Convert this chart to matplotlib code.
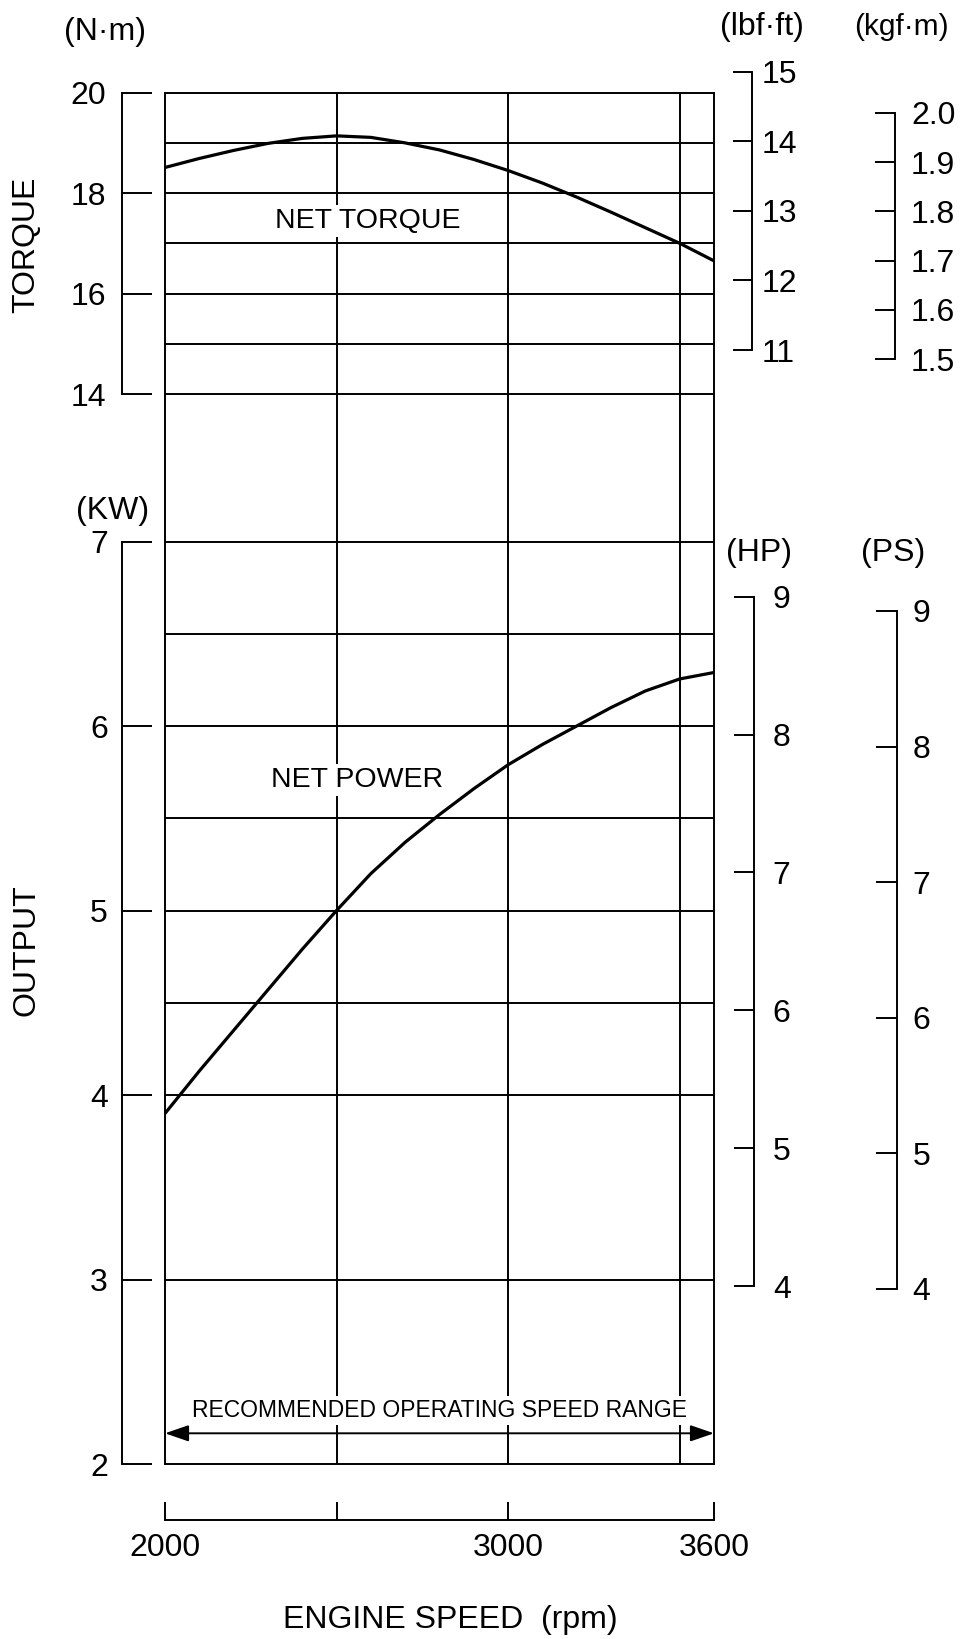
import matplotlib
matplotlib.use("Agg")
import matplotlib.pyplot as plt
from matplotlib import font_manager

# engine speed (rpm) and curves
rpm = [2000, 2100, 2200, 2300, 2400, 2500, 2600, 2700, 2800, 2900,
       3000, 3100, 3200, 3300, 3400, 3500, 3600]
netTorque = [18.51, 18.69, 18.85, 18.99, 19.09, 19.14, 19.11, 19.00, 18.86, 18.67,
             18.45, 18.20, 17.92, 17.62, 17.31, 17.00, 16.65]   # N·m
netPower = [3.90, 4.13, 4.35, 4.57, 4.79, 5.00, 5.20, 5.37, 5.52, 5.66,
            5.79, 5.90, 6.00, 6.10, 6.19, 6.255, 6.29]           # kW

xTicks = [2000, 2500, 3000, 3600]
xTickLabels = ["2000", "", "3000", "3600"]
vLines = [2500, 3000, 3500]
torqueGrid = [14, 15, 16, 17, 18, 19]
powerGrid = [3, 4, 4.5, 5, 5.5, 6, 6.5, 7]

nmTicks = [14, 16, 18, 20]
lbfftTicks = [11, 12, 13, 14, 15]
kgfmTicks = [1.5, 1.6, 1.7, 1.8, 1.9, 2.0]
kwTicks = [2, 3, 4, 5, 6, 7]
hpTicks = [4, 5, 6, 7, 8, 9]
psTicks = [4, 5, 6, 7, 8, 9]

W, H = 965, 1639
LW = 1.4
plt.rcParams["font.family"] = ["Liberation Sans", "DejaVu Sans"]
plt.rcParams["font.size"] = 23

names = {f.name for f in font_manager.fontManager.ttflist}
if "Liberation Sans Narrow" in names:
    recFamily, recSize = ["Liberation Sans Narrow", "Liberation Sans"], 20.5
else:
    recFamily, recSize = ["Liberation Sans", "DejaVu Sans"], 16.5


def box(x0, y0, x1, y1):
    # pixel rect (top-left origin) -> figure fraction rect
    return [x0 / W, 1 - y1 / H, (x1 - x0) / W, (y1 - y0) / H]


def bracket(fig, rect, lo, hi, ticks, side, tickLen, pad, fmt="{:g}"):
    b = fig.add_axes(rect)
    b.patch.set_visible(False)
    for s in b.spines.values():
        s.set_visible(False)
    b.spines[side].set_visible(True)
    b.spines[side].set_linewidth(LW)
    if side in ("left", "right"):
        b.set_ylim(lo, hi)
        b.set_xticks([])
        b.set_yticks(ticks, labels=[fmt.format(t) for t in ticks])
        b.yaxis.set_ticks_position(side)
        b.tick_params(axis="y", direction="in", length=tickLen, width=LW, pad=pad, labelsize=23)
    else:
        b.set_xlim(lo, hi)
        b.set_yticks([])
        b.set_xticks(ticks, labels=fmt)
        b.tick_params(axis="x", direction="in", length=tickLen, width=LW, pad=pad, labelsize=23)
    return b


fig = plt.figure(figsize=(W / 100, H / 100), dpi=100)

boxTop, boxBottom = 92.7, 1464
ax = fig.add_axes(box(165, boxTop, 714, boxBottom))
ax.set_xlim(2000, 3600)
ax.set_ylim(2, 2 + (boxBottom - boxTop) / 184.5)   # kW, 184.5 px per kW
ax.set_xticks([])
ax.set_yticks([])
for s in ax.spines.values():
    s.set_linewidth(LW)

axT = ax.twinx()
axT.set_ylim(20 - (boxBottom - boxTop) / 50.2, 20)  # N·m, 50.2 px per N·m
axT.set_yticks([])
for s in axT.spines.values():
    s.set_visible(False)

for v in vLines:
    ax.axvline(v, color="black", lw=LW)
for h in powerGrid:
    ax.axhline(h, color="black", lw=LW)
for h in torqueGrid:
    axT.axhline(h, color="black", lw=LW)

ax.plot(rpm, netPower, color="black", lw=2.3)
axT.plot(rpm, netTorque, color="black", lw=2.3)

# double arrow for operating range
ax.annotate("", xy=(3600, (boxBottom - 1433.3) / (boxBottom - boxTop)),
            xytext=(2000, (boxBottom - 1433.3) / (boxBottom - boxTop)),
            xycoords=("data", "axes fraction"), textcoords=("data", "axes fraction"),
            arrowprops=dict(arrowstyle="<|-|>,head_length=1.45,head_width=0.5",
                            color="black", lw=LW, shrinkA=0, shrinkB=0, mutation_scale=10))

white = dict(facecolor="white", edgecolor="none", pad=2)
fig.text(368 / W, 1 - 228 / H, "NET TORQUE", ha="center", va="baseline", fontsize=20.5, bbox=white)
fig.text(357 / W, 1 - 786.7 / H, "NET POWER", ha="center", va="baseline", fontsize=20.5, bbox=white)
fig.text(440 / W, 1 - 1417 / H, "RECOMMENDED OPERATING SPEED RANGE", ha="center", va="baseline",
         fontsize=recSize, family=recFamily, bbox=white)

# scale brackets
bracket(fig, box(121.7, 92.7, 151.7, 394), 14, 20, nmTicks, "left", 21.6, 11)
bracket(fig, box(121.7, 541.7, 151.7, 1464), 2, 7, kwTicks, "left", 21.6, 10)
bracket(fig, box(733, 71.7, 751.7, 350), 11, 15, lbfftTicks, "right", 13.5, 7)
bracket(fig, box(875, 112.7, 895, 359.3), 1.5, 2.0, kgfmTicks, "right", 14.4, 11.5, "{:.1f}")
bracket(fig, box(734, 596.7, 754, 1286), 4, 9, hpTicks, "right", 14.4, 13.5)
bracket(fig, box(876, 611, 896.7, 1289), 4, 9, psTicks, "right", 14.9, 11.5)
bracket(fig, box(165, 1502, 714, 1520), 2000, 3600, xTicks, "bottom", 13, 9, xTickLabels)

# unit labels and axis titles
fig.text(105 / W, 1 - 32 / H, "(N·m)", ha="center", va="center")
fig.text(762 / W, 1 - 27.5 / H, "(lbf·ft)", ha="center", va="center")
fig.text(901 / W, 1 - 27 / H, "(kgf·m)", ha="center", va="center", fontsize=21.5)
fig.text(113 / W, 1 - 511 / H, "(KW)", ha="center", va="center")
fig.text(759.5 / W, 1 - 553 / H, "(HP)", ha="center", va="center")
fig.text(893 / W, 1 - 553 / H, "(PS)", ha="center", va="center")
fig.text(26 / W, 1 - 245 / H, "TORQUE", ha="center", va="center", rotation=90)
fig.text(26 / W, 1 - 950 / H, "OUTPUT", ha="center", va="center", rotation=90)
fig.text(450.5 / W, 1 - 1620 / H, "ENGINE SPEED  (rpm)", ha="center", va="center")

plt.savefig("out.png", dpi=100)
